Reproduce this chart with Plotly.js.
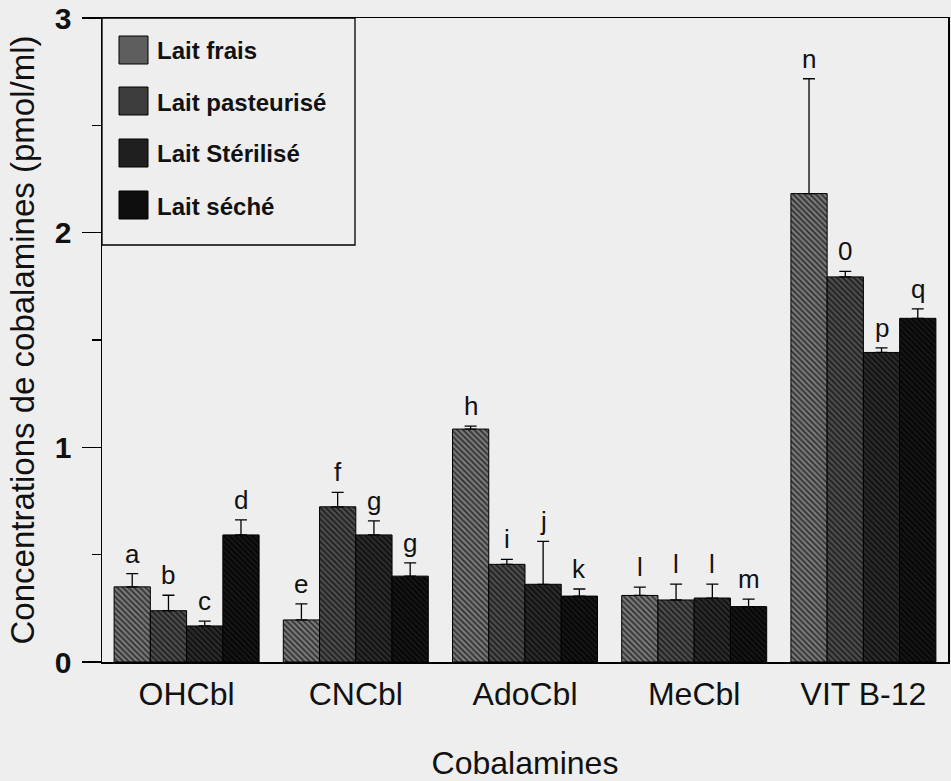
<!DOCTYPE html>
<html>
<head>
<meta charset="utf-8">
<script src="https://cdn.plot.ly/plotly-3.0.1.min.js"></script>
<style>html,body{margin:0;padding:0;background:#eeeeee;}#chart{width:951px;height:781px;}</style>
</head>
<body>
<div id="chart"></div>
<script>
// ---- data ----
const categories = ['OHCbl', 'CNCbl', 'AdoCbl', 'MeCbl', 'VIT B-12'];
const seriesNames = ['Lait frais', 'Lait pasteurisé', 'Lait Stérilisé', 'Lait séché'];

const laitFrais      = [0.350, 0.196, 1.085, 0.310, 2.182];
const laitFraisErr   = [0.062, 0.075, 0.014, 0.039, 0.535];
const laitFraisLet   = ['a', 'e', 'h', 'l', 'n'];

const laitPast       = [0.239, 0.723, 0.455, 0.289, 1.794];
const laitPastErr    = [0.072, 0.067, 0.023, 0.074, 0.026];
const laitPastLet    = ['b', 'f', 'i', 'l', '0'];

const laitSter       = [0.168, 0.592, 0.362, 0.298, 1.442];
const laitSterErr    = [0.022, 0.065, 0.200, 0.065, 0.021];
const laitSterLet    = ['c', 'g', 'j', 'l', 'p'];

const laitSeche      = [0.592, 0.400, 0.307, 0.258, 1.601];
const laitSecheErr   = [0.070, 0.062, 0.033, 0.035, 0.044];
const laitSecheLet   = ['d', 'g', 'k', 'm', 'q'];

const yTicks = [0, 1, 2, 3];

// ---- styles ----
const FONT = 'Liberation Sans, Arial, Helvetica, sans-serif';
const styles = [
  {bg: '#7a7a7a', fg: '#303030', sw: '#5e5e5e'},
  {bg: '#4e4e4e', fg: '#1e1e1e', sw: '#3c3c3c'},
  {bg: '#2c2c2c', fg: '#0e0e0e', sw: '#1f1f1f'},
  {bg: '#161616', fg: '#040404', sw: '#0e0e0e'}
];
const values = [laitFrais, laitPast, laitSter, laitSeche];
const errs = [laitFraisErr, laitPastErr, laitSterErr, laitSecheErr];
const letters = [laitFraisLet, laitPastLet, laitSterLet, laitSecheLet];

const bargap = 0.143;
const nSeries = values.length;

const traces = values.map((v, s) => ({
  type: 'bar',
  name: seriesNames[s],
  x: categories,
  y: v,
  marker: {
    color: styles[s].bg,
    line: {color: '#000', width: 1},
    pattern: {shape: '\\', size: 4, solidity: 0.45, fgcolor: styles[s].fg, bgcolor: styles[s].bg, fillmode: 'replace'}
  },
  error_y: {type: 'data', symmetric: false, array: errs[s], color: '#000', thickness: 1.3, width: 6},
  showlegend: false,
  hoverinfo: 'x+y+name'
}));

// letters above error bars (positions from category index + group offset)
const annotations = [];
const barW = (1 - bargap) / nSeries;
values.forEach((v, s) => {
  v.forEach((val, i) => {
    annotations.push({
      xref: 'x', yref: 'y',
      x: i + (s - (nSeries - 1) / 2) * barW,
      y: val + errs[s][i],
      text: letters[s][i],
      showarrow: false,
      yanchor: 'bottom', xanchor: 'center',
      yshift: 3,
      font: {family: FONT, size: 26, color: '#111'}
    });
  });
});

// custom legend (large swatches)
const plotH = 781 - 18 - 119;
const plotW = 951 - 102 - 3;
const shapes = [{
  type: 'rect', xref: 'paper', yref: 'paper',
  x0: 0, x1: (355 - 102) / plotW, y0: (662 - 245) / plotH, y1: 1,
  line: {color: '#000', width: 1.3}, fillcolor: 'rgba(0,0,0,0)'
}];
const rowY = [50, 101, 153, 205];
seriesNames.forEach((nm, s) => {
  const yc = rowY[s];
  shapes.push({
    type: 'rect', xref: 'paper', yref: 'paper',
    x0: (119 - 102) / plotW, x1: (148 - 102) / plotW,
    y0: (662 - (yc + 14)) / plotH, y1: (662 - (yc - 14)) / plotH,
    line: {color: '#000', width: 1}, fillcolor: styles[s].sw
  });
  annotations.push({
    xref: 'paper', yref: 'paper',
    x: (155 - 102) / plotW, y: (662 - yc - 1) / plotH,
    xanchor: 'left', yanchor: 'middle',
    text: nm, showarrow: false,
    font: {family: FONT, size: 24, color: '#111', weight: 'bold'}
  });
});

const layout = {
  width: 951, height: 781,
  margin: {l: 102, r: 3, t: 18, b: 119, pad: 0},
  paper_bgcolor: '#eeeeee',
  plot_bgcolor: '#eeeeee',
  barmode: 'group',
  bargap: bargap,
  bargroupgap: 0,
  showlegend: false,
  font: {family: FONT, color: '#111'},
  xaxis: {
    type: 'category',
    range: [-0.5, 4.5],
    showline: true, linecolor: '#000', linewidth: 1.5, mirror: true,
    ticks: '', showgrid: false, zeroline: false,
    tickfont: {family: FONT, size: 32, color: '#111'},
    ticklabelstandoff: 3,
    title: {text: 'Cobalamines', font: {family: FONT, size: 32, color: '#111'}, standoff: 40},
    automargin: false
  },
  yaxis: {
    range: [0, 3],
    tickvals: yTicks,
    ticktext: yTicks.map(String),
    ticks: 'outside', ticklen: 19, tickwidth: 1.3, tickcolor: '#000',
    minor: {dtick: 0.5, ticks: 'outside', ticklen: 9, tickwidth: 1.3, tickcolor: '#000', showgrid: false},
    showline: true, linecolor: '#000', linewidth: 1.5, mirror: true,
    showgrid: false, zeroline: false,
    tickfont: {family: FONT, size: 30, color: '#111', weight: 'bold'},
    ticklabelstandoff: 4,
    title: {text: 'Concentrations de cobalamines (pmol/ml)', font: {family: FONT, size: 33, color: '#111'}, standoff: 10},
    automargin: false
  },
  shapes: shapes,
  annotations: annotations
};

Plotly.newPlot('chart', traces, layout, {displayModeBar: false, staticPlot: true});
</script>
</body>
</html>
